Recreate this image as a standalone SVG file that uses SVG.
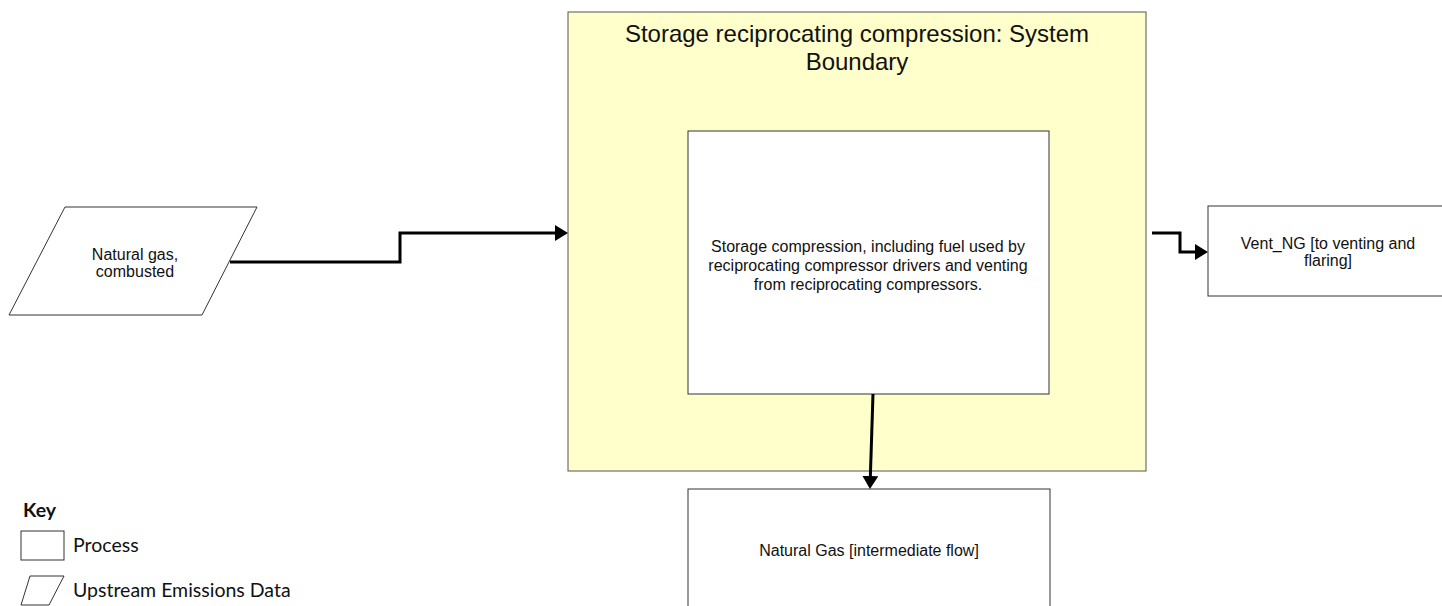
<svg xmlns="http://www.w3.org/2000/svg" width="1442" height="606" viewBox="0 0 1442 606">
<style>
.box{fill:#fff;stroke:#333;stroke-width:1}
.t{font-family:"Liberation Sans",Arial,sans-serif;font-size:16px;fill:#111;text-anchor:middle}
.k{font-family:Lato,"Liberation Sans",sans-serif;font-size:19.5px;fill:#111}
.c{fill:none;stroke:#000;stroke-width:3}
</style>
<defs>
<marker id="ah" viewBox="0 0 13 16" refX="2" refY="8" markerWidth="13" markerHeight="16" orient="auto" markerUnits="userSpaceOnUse">
<path d="M0,0 L13,8 L0,16 z" fill="#000"/>
</marker>
</defs>
<rect width="1442" height="606" fill="#fff"/>
<g id="boundary">
<rect x="568" y="12" width="578" height="459" fill="#ffffcc" stroke="#555" stroke-width="1"/>
<text class="t" style="font-size:24px" x="857" y="42">Storage reciprocating compression: System</text>
<text class="t" style="font-size:24px" x="857" y="70">Boundary</text>
</g>
<g id="process">
<rect class="box" x="688" y="131" width="361" height="263"/>
<text class="t" x="868" y="252">Storage compression, including fuel used by</text>
<text class="t" x="868" y="271">reciprocating compressor drivers and venting</text>
<text class="t" x="868" y="290">from reciprocating compressors.</text>
</g>
<g id="natural-gas-combusted">
<polygon class="box" points="65,207 257,207 202,315 9,315"/>
<text class="t" x="135" y="260">Natural gas,</text>
<text class="t" x="135" y="277">combusted</text>
</g>
<g id="vent-ng">
<rect class="box" x="1208" y="206" width="240" height="90"/>
<text class="t" x="1328" y="249">Vent_NG [to venting and</text>
<text class="t" x="1328" y="266">flaring]</text>
</g>
<g id="natural-gas-intermediate">
<rect class="box" x="688" y="489" width="362" height="125"/>
<text class="t" x="869" y="556">Natural Gas [intermediate flow]</text>
</g>
<g id="connectors">
<polyline class="c" points="230,262 400,262 400,233 557,233" marker-end="url(#ah)"/>
<polyline class="c" points="1152,233 1180,233 1180,252 1197,252" marker-end="url(#ah)"/>
<line class="c" x1="873" y1="394" x2="870.3" y2="478" marker-end="url(#ah)"/>
</g>
<g id="key">
<text class="k" style="font-weight:bold" x="23" y="517">Key</text>
<rect x="21" y="531" width="43" height="29" fill="#fff" stroke="#333" stroke-width="1"/>
<text class="k" x="73" y="552">Process</text>
<polygon points="30,576 64,576 49,605 21,605" fill="#fff" stroke="#333" stroke-width="1"/>
<text class="k" x="73" y="597">Upstream Emissions Data</text>
</g>
</svg>
